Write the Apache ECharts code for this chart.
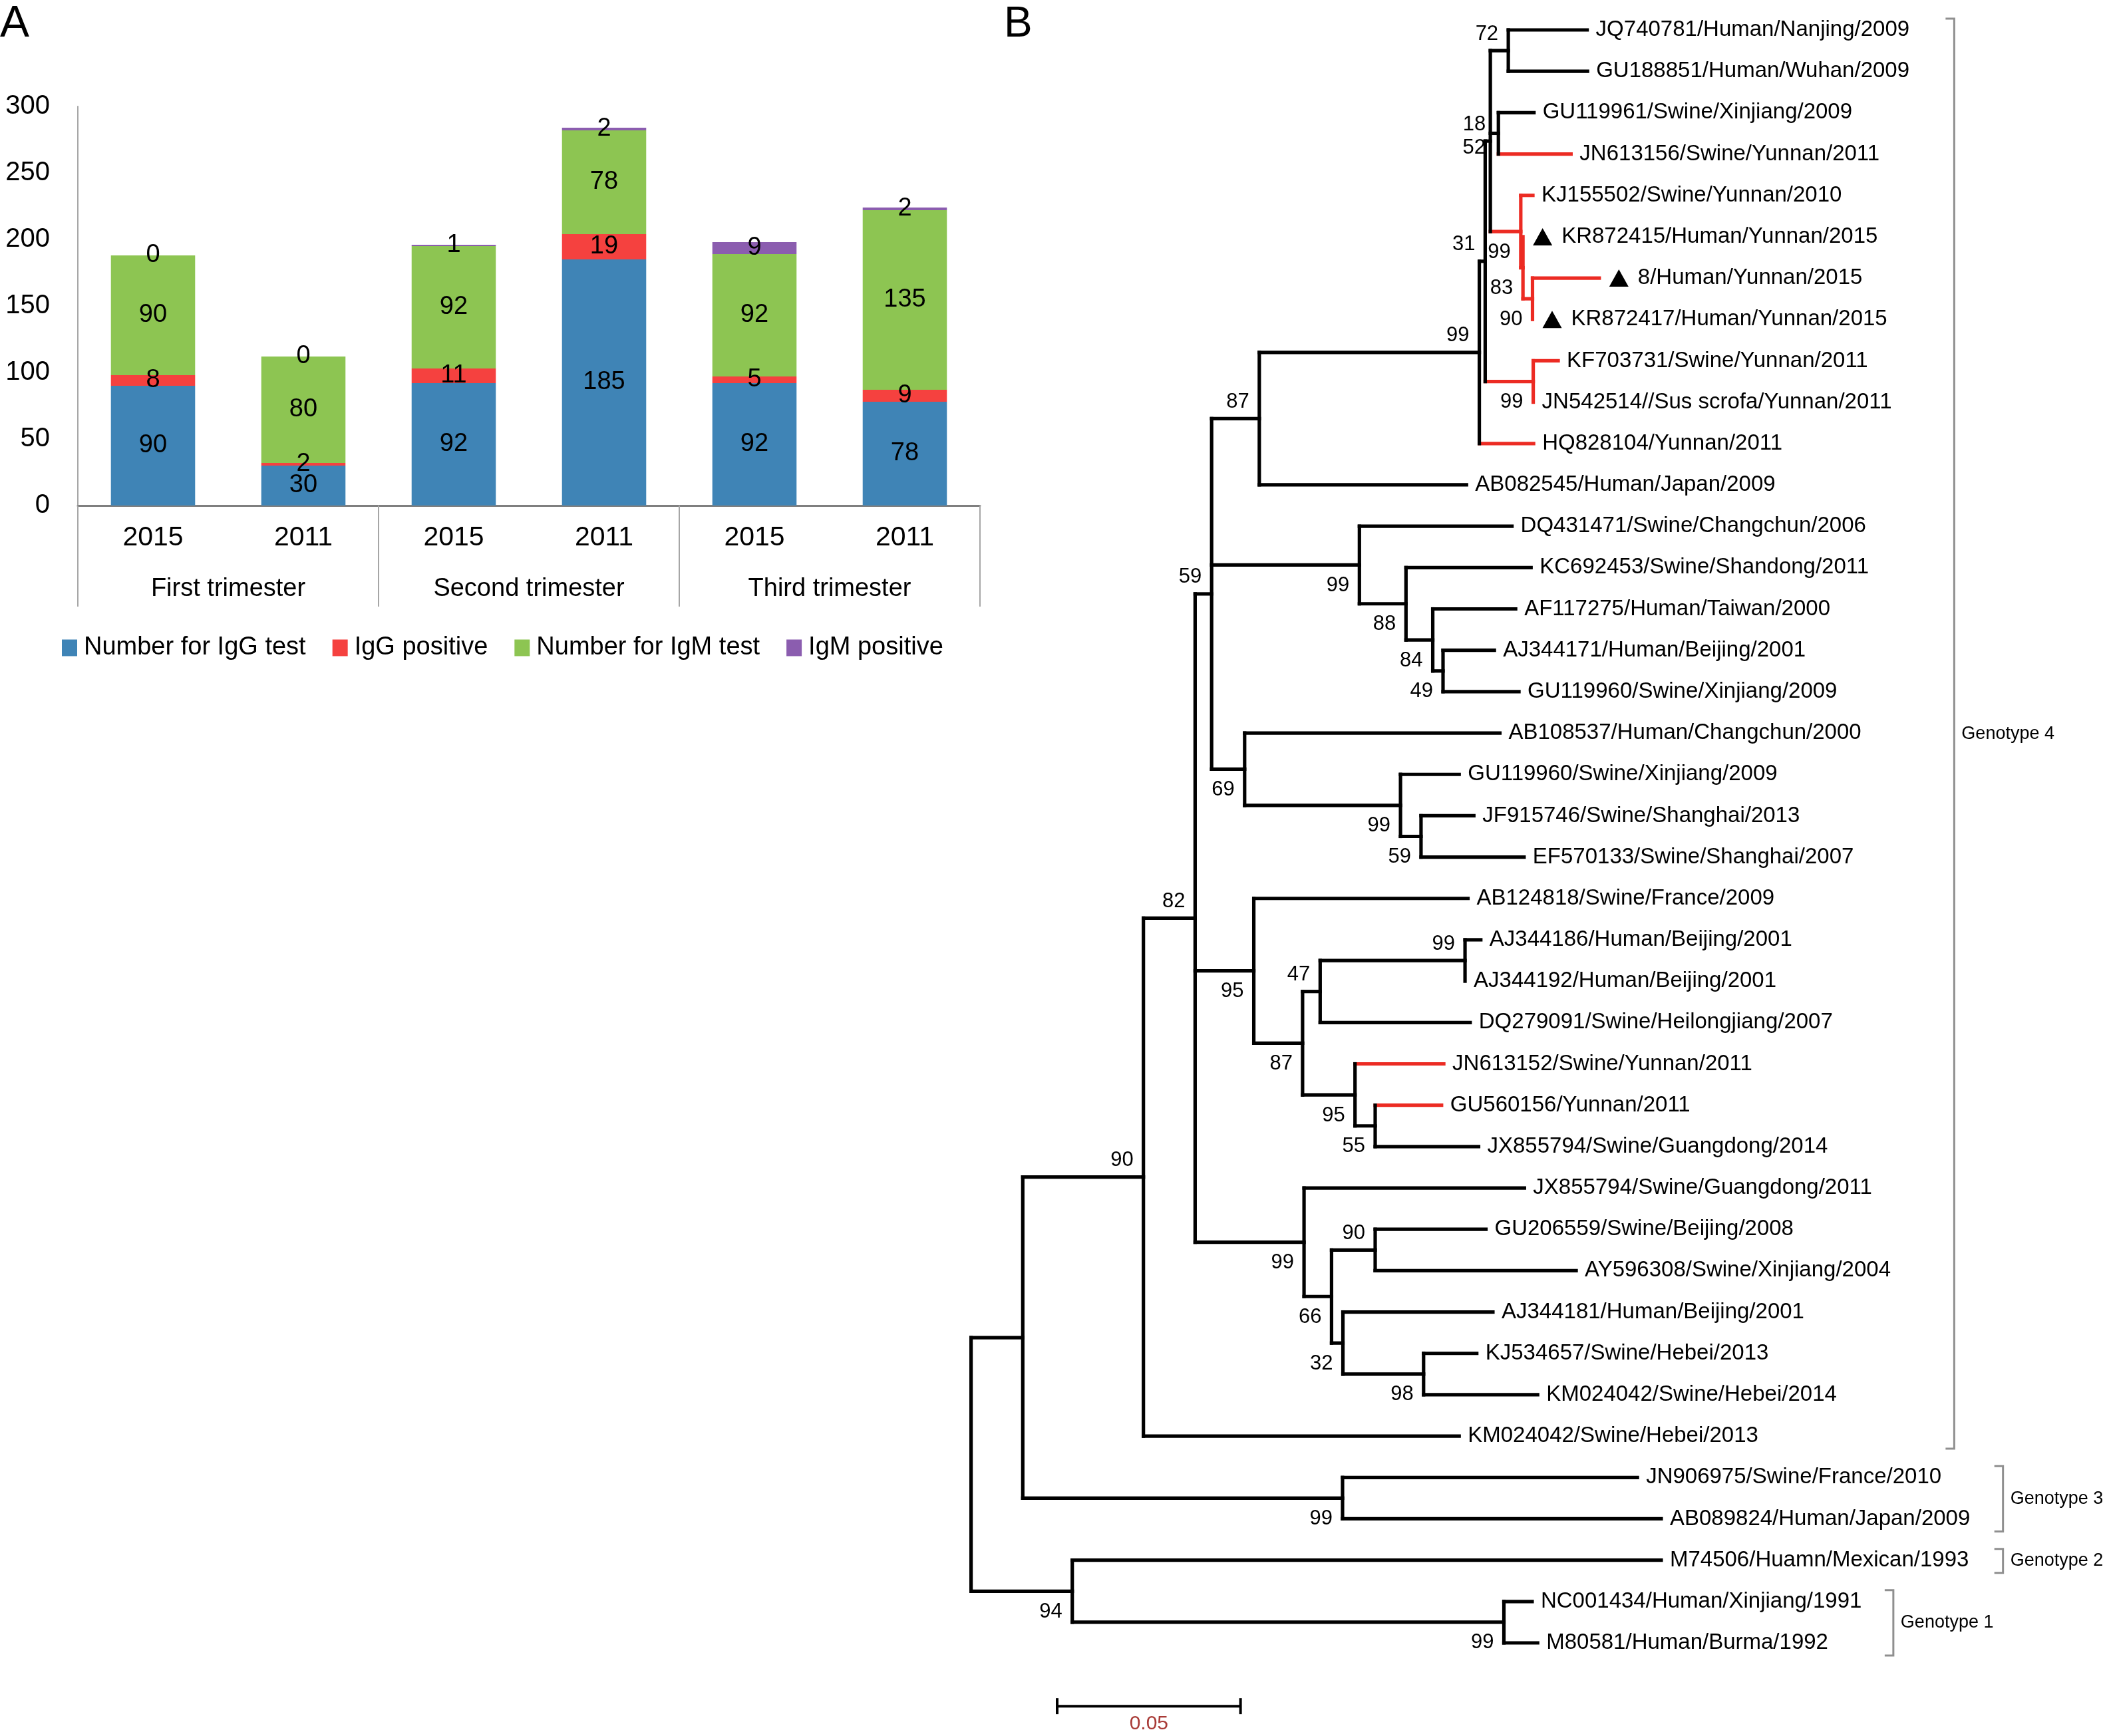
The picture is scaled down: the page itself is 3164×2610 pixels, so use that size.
<!DOCTYPE html>
<html>
<head>
<meta charset="utf-8">
<script src="https://cdn.jsdelivr.net/npm/echarts/dist/echarts.min.js"></script>
<style>
html,body{margin:0;padding:0;background:#fff}
#chart{width:3164px;height:2610px}
</style>
</head>
<body>
<div id="chart"></div>
<script>
// ---------------- Panel A data ----------------
const years = ['2015', '2011', '2015', '2011', '2015', '2011'];
const trimesters = ['First trimester', 'Second trimester', 'Third trimester'];
const seriesNames = ['Number for IgG test', 'IgG positive', 'Number for IgM test', 'IgM positive'];
const iggTest = [90, 30, 92, 185, 92, 78];
const iggPositive = [8, 2, 11, 19, 5, 9];
const igmTest = [90, 80, 92, 78, 92, 135];
const igmPositive = [0, 0, 1, 2, 9, 2];
const yMax = 300;
const yStep = 50;

// ---------------- Panel B data (phylogeny) ----------------
// [name, parent, branch length (substitutions/site), bootstrap]
const treeBranches = [
  ['root', null, 0, null],
  ['r1', 'root', 0.0141, null],
  ['n90', 'r1', 0.0329, 90],
  ['n82', 'n90', 0.0141, 82],
  ['n59', 'n82', 0.0045, 59],
  ['n87', 'n59', 0.0130, 87],
  ['nJ', 'n87', 0.0600, 99],
  ['nI', 'nJ', 0.0016, 31],
  ['nX', 'nI', 0.0014, 52],
  ['nA', 'nX', 0.0049, 72],
  ['JQ740781/Human/Nanjing/2009', 'nA', 0.0215],
  ['GU188851/Human/Wuhan/2009', 'nA', 0.0216],
  ['nB', 'nX', 0.0022, 18],
  ['GU119961/Swine/Xinjiang/2009', 'nB', 0.0097],
  ['JN613156/Swine/Yunnan/2011', 'nB', 0.0198],
  ['nG', 'nX', 0.0083, 99],
  ['KJ155502/Swine/Yunnan/2010', 'nG', 0.0033],
  ['nF', 'nG', 0.0006, 83],
  ['KR872415/Human/Yunnan/2015', 'nF', 0],
  ['nE', 'nF', 0.0026, 90],
  ['8/Human/Yunnan/2015', 'nE', 0.0182],
  ['KR872417/Human/Yunnan/2015', 'nE', 0],
  ['nH', 'nI', 0.0131, 99],
  ['KF703731/Swine/Yunnan/2011', 'nH', 0.0068],
  ['JN542514//Sus scrofa/Yunnan/2011', 'nH', 0],
  ['HQ828104/Yunnan/2011', 'nJ', 0.0148],
  ['AB082545/Human/Japan/2009', 'n87', 0.0565],
  ['nDQ', 'n59', 0.0403, 99],
  ['DQ431471/Swine/Changchun/2006', 'nDQ', 0.0416],
  ['n88', 'nDQ', 0.0127, 88],
  ['KC692453/Swine/Shandong/2011', 'n88', 0.0341],
  ['n84', 'n88', 0.0073, 84],
  ['AF117275/Human/Taiwan/2000', 'n84', 0.0226],
  ['n49', 'n84', 0.0028, 49],
  ['AJ344171/Human/Beijing/2001', 'n49', 0.0140],
  ['GU119960/Swine/Xinjiang/2009', 'n49', 0.0207],
  ['n69', 'n59', 0.0090, 69],
  ['AB108537/Human/Changchun/2000', 'n69', 0.0696],
  ['n99b', 'n69', 0.0425, 99],
  ['GU119960/Swine/Xinjiang/2009', 'n99b', 0.0160],
  ['n59b', 'n99b', 0.0056, 59],
  ['JF915746/Swine/Shanghai/2013', 'n59b', 0.0144],
  ['EF570133/Swine/Shanghai/2007', 'n59b', 0.0281],
  ['n95', 'n82', 0.0160, 95],
  ['AB124818/Swine/France/2009', 'n95', 0.0584],
  ['n87b', 'n95', 0.0133, 87],
  ['n47', 'n87b', 0.0048, 47],
  ['n99d', 'n47', 0.0395, 99],
  ['AJ344186/Human/Beijing/2001', 'n99d', 0.0043],
  ['AJ344192/Human/Beijing/2001', 'n99d', 0],
  ['DQ279091/Swine/Heilongjiang/2007', 'n47', 0.0409],
  ['n95b', 'n87b', 0.0143, 95],
  ['JN613152/Swine/Yunnan/2011', 'n95b', 0.0242],
  ['n55', 'n95b', 0.0055, 55],
  ['GU560156/Yunnan/2011', 'n55', 0.0181],
  ['JX855794/Swine/Guangdong/2014', 'n55', 0.0282],
  ['n99c', 'n82', 0.0297, 99],
  ['JX855794/Swine/Guangdong/2011', 'n99c', 0.0601],
  ['n66', 'n99c', 0.0075, 66],
  ['n90b', 'n66', 0.0119, 90],
  ['GU206559/Swine/Beijing/2008', 'n90b', 0.0302],
  ['AY596308/Swine/Xinjiang/2004', 'n90b', 0.0548],
  ['n32', 'n66', 0.0031, 32],
  ['AJ344181/Human/Beijing/2001', 'n32', 0.0409],
  ['n98', 'n32', 0.0220, 98],
  ['KJ534657/Swine/Hebei/2013', 'n98', 0.0145],
  ['KM024042/Swine/Hebei/2014', 'n98', 0.0311],
  ['KM024042/Swine/Hebei/2013', 'n90', 0.0861],
  ['ng3', 'r1', 0.0872, 99],
  ['JN906975/Swine/France/2010', 'ng3', 0.0804],
  ['AB089824/Human/Japan/2009', 'ng3', 0.0869],
  ['n94', 'root', 0.0276, 94],
  ['M74506/Huamn/Mexican/1993', 'n94', 0.1606],
  ['ng1', 'n94', 0.1177, 99],
  ['NC001434/Human/Xinjiang/1991', 'ng1', 0.0077],
  ['M80581/Human/Burma/1992', 'ng1', 0.0092]
];
const highlightedTips = [
  'JN613156/Swine/Yunnan/2011', 'KJ155502/Swine/Yunnan/2010', 'KR872415/Human/Yunnan/2015',
  '8/Human/Yunnan/2015', 'KR872417/Human/Yunnan/2015', 'KF703731/Swine/Yunnan/2011',
  'JN542514//Sus scrofa/Yunnan/2011', 'HQ828104/Yunnan/2011', 'JN613152/Swine/Yunnan/2011',
  'GU560156/Yunnan/2011'
];
const markedTips = ['KR872415/Human/Yunnan/2015', '8/Human/Yunnan/2015', 'KR872417/Human/Yunnan/2015'];
// [label, first tip number, last tip number] (1-based, top to bottom)
const genotypes = [['Genotype 4', 1, 35], ['Genotype 3', 36, 37], ['Genotype 2', 38, 38], ['Genotype 1', 39, 40]];
const scaleBarLength = 0.05;

// ---------------- style / layout config ----------------
const FONT = '"Liberation Sans", Arial, Helvetica, sans-serif';
const C_BLUE = '#3F84B6', C_RED = '#F5413F', C_GREEN = '#8DC552', C_PURPLE = '#8B5DAF';
const TREE_RED = '#EC2B23';
const TREE_LW = 5.2;
const bracketX = { 'Genotype 4': 0.2681, 'Genotype 3': 0.2814, 'Genotype 2': 0.2814, 'Genotype 1': 0.2515 };
const supportNudge = { nB: [-19, -13], nX: [-7, 10] };
const scaleBarPos = { x: 0.02348, row: 40.53 };

// ---------------- build tree layout ----------------
const nodes = treeBranches.map(r => ({ name: r[0], parentId: r[1], len: r[2], support: r.length > 3 ? r[3] : null, children: [] }));
const byId = {};
nodes.forEach(n => { if (!(n.name in byId)) byId[n.name] = n; });
let root = null;
nodes.forEach(n => { if (n.parentId === null) root = n; else byId[n.parentId].children.push(n); });
const tips = [], internals = [];
let tipCounter = 0;
function layout(n, d, parent) {
  n.depth = d; n.parent = parent;
  if (!n.children.length) {
    n.y = tipCounter++;
    n.hl = highlightedTips.includes(n.name);
    n.marked = markedTips.includes(n.name);
    tips.push(n);
  } else {
    n.children.forEach(c => layout(c, d + c.len, n));
    n.y = (n.children[0].y + n.children[n.children.length - 1].y) / 2;
    n.hl = n.children.every(c => c.hl);
    internals.push(n);
  }
}
layout(root, 0, null);
const segments = [];
nodes.forEach(n => {
  if (n.parent && n.depth > n.parent.depth) segments.push([n.parent.depth, n.y, n.depth, n.y, n.hl ? 1 : 0]);
  if (n.children.length) segments.push([n.depth, n.children[0].y, n.depth, n.children[n.children.length - 1].y, n.hl ? 1 : 0]);
});
segments.sort((a, b) => b[4] - a[4]);
const supportNodes = internals.filter(n => n.support !== null && n.parent);

const chart = echarts.init(document.getElementById('chart'), null, { renderer: 'canvas' });
const barLabel = { show: true, position: 'inside', fontSize: 38, color: '#000', fontFamily: FONT, textBorderWidth: 0, textShadowBlur: 0 };
function barSeries(name, data, color) {
  return { name, type: 'bar', stack: 'total', xAxisIndex: 0, yAxisIndex: 0, data, barWidth: '56%',
    itemStyle: { color }, label: barLabel, emphasis: { disabled: true } };
}

const option = {
  animation: false,
  backgroundColor: '#fff',
  textStyle: { fontFamily: FONT },
  graphic: [
    { type: 'text', left: 0, top: 4, style: { text: 'A', font: '66px ' + FONT, fill: '#000' } },
    { type: 'text', left: 1509, top: 5, style: { text: 'B', font: '64px ' + FONT, fill: '#000' } }
  ],
  legend: {
    left: 88, top: 950, itemWidth: 23, itemHeight: 25, itemGap: 40, icon: 'rect',
    textStyle: { fontSize: 38, color: '#000', fontFamily: FONT, padding: [0, 0, 0, 5] },
    data: seriesNames
  },
  grid: [
    { left: 117, top: 160, width: 1356, height: 600, containLabel: false, outerBoundsMode: 'none' },
    { left: 1459.6, top: 45, width: 0.3 * 5512, height: 2425, containLabel: false, outerBoundsMode: 'none' }
  ],
  xAxis: [
    { gridIndex: 0, type: 'category', data: years, position: 'bottom',
      axisLine: { show: true, lineStyle: { color: '#7f7f7f', width: 3 } },
      axisTick: { show: false },
      axisLabel: { margin: 28, fontSize: 41, color: '#000', fontFamily: FONT, interval: 0 } },
    { gridIndex: 0, type: 'category', data: trimesters, position: 'bottom',
      axisLine: { show: false },
      axisTick: { show: true, length: 152, lineStyle: { color: '#a6a6a6', width: 2 } },
      axisLabel: { margin: 107, fontSize: 38, color: '#000', fontFamily: FONT, interval: 0 } },
    { gridIndex: 1, type: 'value', min: 0, max: 0.3, show: false }
  ],
  yAxis: [
    { gridIndex: 0, type: 'value', min: 0, max: yMax, interval: yStep,
      axisLine: { show: true, lineStyle: { color: '#a6a6a6', width: 2 } },
      axisTick: { show: false }, splitLine: { show: false },
      axisLabel: { margin: 42, fontSize: 40, color: '#000', fontFamily: FONT } },
    { gridIndex: 1, type: 'value', min: 0, max: 39, inverse: true, show: false }
  ],
  series: [
    barSeries(seriesNames[0], iggTest, C_BLUE),
    barSeries(seriesNames[1], iggPositive, C_RED),
    barSeries(seriesNames[2], igmTest, C_GREEN),
    barSeries(seriesNames[3], igmPositive, C_PURPLE),
    { type: 'custom', name: 'branches', coordinateSystem: 'cartesian2d', xAxisIndex: 2, yAxisIndex: 1, clip: false,
      silent: true, encode: { x: [0, 2], y: [1, 3] }, data: segments,
      renderItem(params, api) {
        const a = api.coord([api.value(0), api.value(1)]);
        const b = api.coord([api.value(2), api.value(3)]);
        return { type: 'line', shape: { x1: a[0], y1: a[1], x2: b[0], y2: b[1] },
          style: { stroke: api.value(4) ? TREE_RED : '#000', lineWidth: TREE_LW, lineCap: 'square' } };
      } },
    { type: 'custom', name: 'tips', coordinateSystem: 'cartesian2d', xAxisIndex: 2, yAxisIndex: 1, clip: false,
      silent: true, encode: { x: 0, y: 1 }, data: tips.map(t => [t.depth, t.y]),
      renderItem(params, api) {
        const t = tips[params.dataIndex];
        const p = api.coord([api.value(0), api.value(1)]);
        const children = [];
        let x = p[0] + 13;
        if (t.marked) {
          const tx = p[0] + 15;
          children.push({ type: 'polygon', shape: { points: [[tx, p[1] + 13], [tx + 14.5, p[1] - 13], [tx + 29, p[1] + 13]] }, style: { fill: '#000' } });
          x = p[0] + 58;
        }
        children.push({ type: 'text', style: { text: t.name, x, y: p[1], align: 'left', verticalAlign: 'middle', font: '33px ' + FONT, fill: '#000' } });
        return { type: 'group', children };
      } },
    { type: 'custom', name: 'support', coordinateSystem: 'cartesian2d', xAxisIndex: 2, yAxisIndex: 1, clip: false,
      silent: true, encode: { x: 0, y: 1 }, data: supportNodes.map(n => [n.depth, n.y]),
      renderItem(params, api) {
        const n = supportNodes[params.dataIndex];
        const p = api.coord([api.value(0), api.value(1)]);
        const isFirst = n.parent.children[0] === n;
        const off = supportNudge[n.name] || (isFirst ? [-15, -25] : [-15, 31]);
        return { type: 'text', style: { text: String(n.support), x: p[0] + off[0], y: p[1] + off[1], align: 'right', verticalAlign: 'middle', font: '31px ' + FONT, fill: '#000' } };
      } },
    { type: 'custom', name: 'genotypes', coordinateSystem: 'cartesian2d', xAxisIndex: 2, yAxisIndex: 1, clip: false,
      silent: true, encode: { x: 0, y: [1, 2] }, data: genotypes.map(g => [bracketX[g[0]], g[1] - 1, g[2] - 1]),
      renderItem(params, api) {
        const g = genotypes[params.dataIndex];
        const top = api.coord([api.value(0), api.value(1)]);
        const bot = api.coord([api.value(0), api.value(2)]);
        const y1 = top[1] - 17, y2 = bot[1] + 19, x = top[0];
        const st = { stroke: '#8f8f8f', lineWidth: 3 };
        return { type: 'group', children: [
          { type: 'polyline', shape: { points: [[x - 13, y1], [x, y1], [x, y2], [x - 13, y2]] }, style: Object.assign({ fill: 'none' }, st) },
          { type: 'text', style: { text: g[0], x: x + 11, y: (y1 + y2) / 2, align: 'left', verticalAlign: 'middle', font: '27px ' + FONT, fill: '#000' } }
        ] };
      } },
    { type: 'custom', name: 'scalebar', coordinateSystem: 'cartesian2d', xAxisIndex: 2, yAxisIndex: 1, clip: false,
      silent: true, encode: { x: [0, 2], y: 1 }, data: [[scaleBarPos.x, scaleBarPos.row, scaleBarPos.x + scaleBarLength]],
      renderItem(params, api) {
        const a = api.coord([api.value(0), api.value(1)]);
        const b = api.coord([api.value(2), api.value(1)]);
        const st = { stroke: '#000', lineWidth: 4 };
        return { type: 'group', children: [
          { type: 'line', shape: { x1: a[0], y1: a[1], x2: b[0], y2: b[1] }, style: st },
          { type: 'line', shape: { x1: a[0], y1: a[1] - 12, x2: a[0], y2: a[1] + 12 }, style: st },
          { type: 'line', shape: { x1: b[0], y1: b[1] - 12, x2: b[0], y2: b[1] + 12 }, style: st },
          { type: 'text', style: { text: String(scaleBarLength), x: (a[0] + b[0]) / 2, y: a[1] + 27, align: 'center', verticalAlign: 'middle', font: '30px ' + FONT, fill: '#A83A36' } }
        ] };
      } }
  ]
};
chart.setOption(option);
</script>
</body>
</html>
